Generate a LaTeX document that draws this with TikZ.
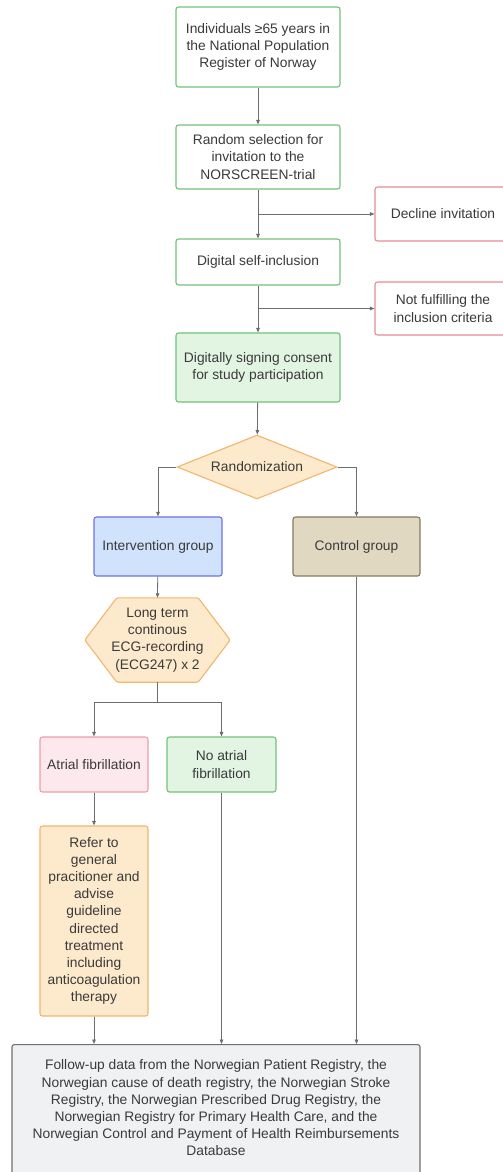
\documentclass[tikz,border=0pt]{standalone}
\usepackage{fontspec}
\setmainfont{Liberation Sans}
\usetikzlibrary{arrows.meta,shapes.geometric,backgrounds}

\definecolor{txt}{HTML}{3A3A3A}
\definecolor{wire}{HTML}{6E6E6E}
\definecolor{grnline}{HTML}{72C27A}
\definecolor{grnfill}{HTML}{E2F5E3}
\definecolor{redline}{HTML}{E58C96}
\definecolor{blueline}{HTML}{6D72E6}
\definecolor{bluefill}{HTML}{D0E2FC}
\definecolor{tanline}{HTML}{857B66}
\definecolor{tanfill}{HTML}{E0D8C1}
\definecolor{orgline}{HTML}{F2B66E}
\definecolor{orgfill}{HTML}{FDE9CC}
\definecolor{pinkline}{HTML}{EE9DAB}
\definecolor{pinkfill}{HTML}{FDE9ED}
\definecolor{greyline}{HTML}{6F6F6F}
\definecolor{greyfill}{HTML}{F0F1F3}

\begin{document}
\begin{tikzpicture}[x=1pt,y=-1pt,
  lbl/.style={font=\fontsize{13.8}{17.2}\selectfont, text=txt, align=center, inner sep=0pt},
  box/.style={lbl, draw, rounded corners=2.5pt, line width=1.1pt, rectangle},
  grnbox/.style={box, draw=grnline, fill=white},
  grnfilled/.style={box, draw=grnline, fill=grnfill},
  redbox/.style={box, draw=redline, fill=white},
  arr/.style={draw=wire, line width=0.8pt, -{Triangle[length=4.5pt,width=3.6pt]}},
  wireline/.style={draw=wire, line width=0.8pt}]

\useasboundingbox (0,0) rectangle (503,1172);
\clip (0,0) rectangle (503,1172);

% main column
\node[grnbox, minimum width=164pt, minimum height=80pt] (pop) at (258,47)
  {Individuals ≥65 years in\\the National Population\\Register of Norway};
\node[grnbox, minimum width=164pt, minimum height=64pt] (select) at (258,157)
  {Random selection for\\invitation to the\\NORSCREEN-trial};
\node[grnbox, minimum width=164pt, minimum height=46pt] (self) at (258,262)
  {Digital self-inclusion};
\node[grnfilled, minimum width=164pt, minimum height=69pt] (consent) at (258,367.5)
  {Digitally signing consent\\for study participation};

% exclusions on the right
\node[redbox, minimum width=136pt, minimum height=54pt] (decline) at (443,214)
  {Decline invitation};
\node[redbox, minimum width=136pt, minimum height=53pt] (notful) at (443,308.5)
  {Not fulfilling the\\inclusion criteria};

% randomization
\node[lbl, diamond, aspect=2.5, draw=orgline, fill=orgfill, line width=1.1pt,
      minimum width=160pt, minimum height=64pt] (rand) at (257,467) {Randomization};

\node[box, draw=blueline, fill=bluefill, minimum width=128pt, minimum height=59pt]
  (interv) at (158,546.5) {Intervention group};
\node[box, draw=tanline, fill=tanfill, minimum width=127pt, minimum height=59pt]
  (ctrl) at (356.5,546.5) {Control group};

% ECG recording hexagon
\node[lbl, minimum width=145pt, minimum height=84pt] (ecg) at (157.5,640)
  {Long term\\continous\\ECG-recording\\(ECG247) x 2};

\node[box, draw=pinkline, fill=pinkfill, minimum width=108pt, minimum height=55pt]
  (af) at (94,764.5) {Atrial fibrillation};
\node[grnfilled, minimum width=109pt, minimum height=55pt]
  (noaf) at (221.5,764.5) {No atrial\\fibrillation};

\node[box, draw=orgline, fill=orgfill, minimum width=108pt, minimum height=190pt]
  (refer) at (94,921)
  {Refer to\\general\\pracitioner and\\advise\\guideline\\directed\\treatment\\including\\anticoagulation\\therapy};

% follow-up registry box
\node[box, draw=greyline, fill=greyfill, minimum width=408pt, minimum height=170pt,
      anchor=north] (follow) at (216,1044) {};
\node[lbl] (followtext) at (216,1108)
  {Follow-up data from the Norwegian Patient Registry, the\\
   Norwegian cause of death registry, the Norwegian Stroke\\
   Registry, the Norwegian Prescribed Drug Registry, the\\
   Norwegian Registry for Primary Health Care, and the\\
   Norwegian Control and Payment of Health Reimbursements\\
   Database};

% page background and hexagon outline behind the text
\begin{scope}[on background layer]
  \fill[white] (0,0) rectangle (503,1172);
  \draw[draw=orgline, fill=orgfill, line width=1.1pt, rounded corners=1.5pt]
    (ecg.west) -- ([xshift=32pt]ecg.north west) -- ([xshift=-32pt]ecg.north east)
    -- (ecg.east) -- ([xshift=-32pt]ecg.south east) -- ([xshift=32pt]ecg.south west)
    -- cycle;
\end{scope}

% connectors
\draw[arr] (pop) -- (select);
\draw[arr] (select) -- (self);
\coordinate (j1) at (select.south |- decline.west);
\draw[arr] (j1) -- (decline.west);
\draw[arr] (self) -- (consent);
\coordinate (j2) at (self.south |- notful.west);
\draw[arr] (j2) -- (notful.west);
\draw[arr] (consent) -- (rand);
\draw[arr] (rand.west) -| (interv.north);
\draw[arr] (rand.east) -| (ctrl.north);
\draw[arr] (interv) -- (ecg.north);
\coordinate (j3) at (157.5,702);
\draw[wireline] (ecg.south) -- (j3);
\draw[arr] (j3) -| (af.north);
\draw[arr] (j3) -| (noaf.north);
\draw[arr] (af) -- (refer);
\draw[arr] (refer.south) -- (refer.south |- follow.north);
\draw[arr] (noaf.south) -- (noaf.south |- follow.north);
\draw[arr] (ctrl.south) -- (ctrl.south |- follow.north);
\end{tikzpicture}
\end{document}
